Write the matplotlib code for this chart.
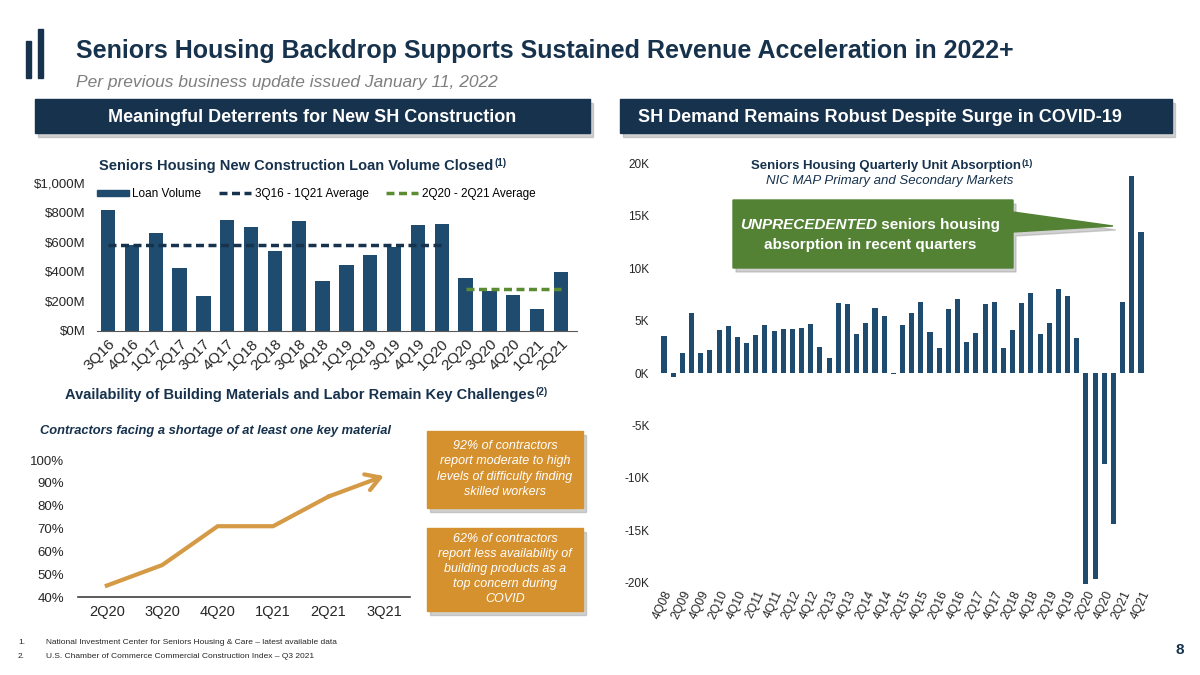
import numpy as np
import matplotlib
matplotlib.use("Agg")
import matplotlib.pyplot as plt
from matplotlib.patches import Rectangle, Polygon, Patch
from matplotlib.lines import Line2D

plt.rcParams['font.family'] = ['Liberation Sans', 'DejaVu Sans']

# ---- data ----
loan_q = ["3Q16", "4Q16", "1Q17", "2Q17", "3Q17", "4Q17", "1Q18", "2Q18", "3Q18", "4Q18",
          "1Q19", "2Q19", "3Q19", "4Q19", "1Q20", "2Q20", "3Q20", "4Q20", "1Q21", "2Q21"]
loan_vol = [820, 580, 664, 425, 239, 749, 702, 543, 742, 340,
            449, 516, 568, 715, 720, 358, 270, 244, 152, 396]
avg_long = 581    # 3Q16 - 1Q21 average
avg_short = 286   # 2Q20 - 2Q21 average

short_q = ["2Q20", "3Q20", "4Q20", "1Q21", "2Q21", "3Q21"]
short_pct = [45, 54, 71, 71, 84, 93]

abs_q = ["4Q08"] + ["%dQ%02d" % (q, y % 100) for y in range(2009, 2022) for q in (1, 2, 3, 4)]
absorption = [3.5, -0.4, 1.9, 5.7, 1.9, 2.2, 4.1, 4.5, 3.4, 2.9,
              3.6, 4.6, 4.05, 4.2, 4.2, 4.3, 4.7, 2.5, 1.4, 6.7,
              6.6, 3.7, 4.8, 6.2, 5.4, -0.1, 4.6, 5.7, 6.8, 3.9,
              2.4, 6.1, 7.1, 3.0, 3.8, 6.6, 6.8, 2.4, 4.1, 6.7,
              7.6, 3.7, 4.8, 8.0, 7.3, 3.3, -20.1, -19.6, -8.7, -14.4,
              6.8, 18.8, 13.4]

NAVY = "#17324d"
BAR = "#1f4b6e"
GREEN = "#548235"
DASH_GREEN = "#5b8c32"
ORANGE = "#d6912f"
LINE_OR = "#d59a45"
TXT = "#262626"
DASH = (0, (2.3, 1.3))

W, H = 1200, 675
fig = plt.figure(figsize=(12, 6.75), dpi=100)


def add_ax(x0, y0, x1, y1):
    return fig.add_axes([x0 / W, 1 - y1 / H, (x1 - x0) / W, (y1 - y0) / H])


def ftext(x, y, s, **kw):
    return fig.text(x / W, 1 - y / H, s, **kw)


def rect(x0, y0, x1, y1, color, shadow=True):
    if shadow:
        fig.patches.append(Rectangle(((x0 + 3) / W, 1 - (y1 + 4) / H), (x1 - x0) / W, (y1 - y0) / H,
                                     transform=fig.transFigure, color="#9a9a9a", alpha=0.45, zorder=0))
    fig.patches.append(Rectangle((x0 / W, 1 - y1 / H), (x1 - x0) / W, (y1 - y0) / H,
                                 transform=fig.transFigure, color=color, zorder=1))


renderer = fig.canvas.get_renderer()


def sup_after(t, s, size=7, **kw):
    bb = t.get_window_extent(renderer)
    return fig.text((bb.x1 + 1) / W, (bb.y1 + 1) / H, s, fontsize=size, va="top", ha="left", **kw)


# ---- header ----
fig.patches.append(Rectangle((26 / W, 1 - 78 / H), 5 / W, 37 / H, transform=fig.transFigure, color=NAVY))
fig.patches.append(Rectangle((38 / W, 1 - 78 / H), 5 / W, 49 / H, transform=fig.transFigure, color=NAVY))
ftext(76, 51, "Seniors Housing Backdrop Supports Sustained Revenue Acceleration in 2022+",
      fontsize=18, fontweight="bold", color=NAVY, va="center")
ftext(76, 83, "Per previous business update issued January 11, 2022",
      fontsize=12.5, style="italic", color="#7f7f7f", va="center")

rect(35, 99, 590, 133, NAVY)
ftext(312, 117, "Meaningful Deterrents for New SH Construction", fontsize=13, fontweight="bold",
      color="white", ha="center", va="center")
rect(620, 99, 1172, 133, NAVY)
ftext(880, 117, "SH Demand Remains Robust Despite Surge in COVID-19", fontsize=13, fontweight="bold",
      color="white", ha="center", va="center")

# ---- loan volume bars ----
ax1 = add_ax(97, 183, 577, 331)
x = np.arange(len(loan_q))
ax1.bar(x, loan_vol, width=0.6, color=BAR, zorder=2)
ax1.plot([0, 14], [avg_long] * 2, ls=DASH, lw=2.5, color=NAVY, zorder=3)
ax1.plot([15, 19], [avg_short] * 2, ls=DASH, lw=2.5, color=DASH_GREEN, zorder=3)
ax1.set_xlim(-0.46, 19.67)
ax1.set_ylim(0, 1000)
ax1.set_yticks([0, 200, 400, 600, 800, 1000])
ax1.set_yticklabels(["$0M", "$200M", "$400M", "$600M", "$800M", "$1,000M"])
ax1.set_xticks(x)
ax1.set_xticklabels(loan_q, rotation=45, ha="right", rotation_mode="anchor")
ax1.tick_params(axis="x", length=0, labelsize=11, pad=4, colors=TXT)
ax1.tick_params(axis="y", length=0, labelsize=9.5, pad=8, colors=TXT)
for s in ["top", "right", "left"]:
    ax1.spines[s].set_visible(False)
ax1.spines["bottom"].set_color("#595959")
handles = [Patch(color=BAR),
           Line2D([], [], ls=DASH, lw=2.5, color=NAVY),
           Line2D([], [], ls=DASH, lw=2.5, color=DASH_GREEN)]
ax1.legend(handles, ["Loan Volume", "3Q16 - 1Q21 Average", "2Q20 - 2Q21 Average"], ncol=3,
           loc="center left", bbox_to_anchor=(0.0, 0.925), frameon=False, fontsize=8.5,
           handlelength=2.7, handleheight=0.45, columnspacing=1.5, handletextpad=0.3,
           borderpad=0, borderaxespad=0)
t = ftext(296, 166, "Seniors Housing New Construction Loan Volume Closed", fontsize=10.5,
          fontweight="bold", color=NAVY, ha="center", va="center")
sup_after(t, "(1)", color=NAVY, fontweight="bold")

# ---- contractor shortage line ----
t = ftext(300, 395, "Availability of Building Materials and Labor Remain Key Challenges", fontsize=10.5,
          fontweight="bold", color=NAVY, ha="center", va="center")
sup_after(t, "(2)", color=NAVY, fontweight="bold")
ftext(40, 431, "Contractors facing a shortage of at least one key material", fontsize=9.3,
      fontweight="bold", style="italic", color=NAVY, va="center")

ax2 = add_ax(78, 460, 410, 597)
xs = np.arange(len(short_q))
ax2.plot(xs[:-1], short_pct[:-1], color=LINE_OR, lw=3, solid_joinstyle="miter", zorder=3)
ax2.annotate("", xy=(xs[-1], short_pct[-1]), xytext=(xs[-2], short_pct[-2]),
             arrowprops=dict(arrowstyle="->,head_length=0.5,head_width=0.3", lw=3, color=LINE_OR,
                             mutation_scale=20, shrinkA=0, shrinkB=0))
ax2.set_xlim(-0.52, 5.47)
ax2.set_ylim(40, 100)
ax2.set_yticks(range(40, 101, 10))
ax2.set_yticklabels(["%d%%" % v for v in range(40, 101, 10)])
ax2.set_xticks(xs)
ax2.set_xticklabels(short_q)
ax2.tick_params(axis="x", length=0, labelsize=10.5, pad=6, colors=TXT)
ax2.tick_params(axis="y", length=0, labelsize=9.5, pad=10, colors=TXT)
for s in ["top", "right", "left"]:
    ax2.spines[s].set_visible(False)
ax2.spines["bottom"].set_color("#404040")
ax2.spines["bottom"].set_linewidth(1.2)

rect(427, 431, 583, 508, ORANGE)
ftext(505, 469, "92% of contractors\nreport moderate to high\nlevels of difficulty finding\nskilled workers",
      fontsize=9, style="italic", color="white", ha="center", va="center", linespacing=1.35)
rect(427, 528, 583, 611, ORANGE)
ftext(505, 569, "62% of contractors\nreport less availability of\nbuilding products as a\ntop concern during\nCOVID",
      fontsize=9, style="italic", color="white", ha="center", va="center", linespacing=1.35)

# ---- absorption bars ----
ax3 = add_ax(655, 160, 1150, 586)
xa = np.arange(len(abs_q))
ax3.bar(xa, absorption, width=0.55, color=BAR, zorder=2)
ax3.set_xlim(-0.98, 52.98)
ax3.set_ylim(-20.3, 20.3)
ax3.set_yticks(range(-20, 21, 5))
ax3.set_yticklabels(["%dK" % v for v in range(-20, 21, 5)])
ax3.set_xticks(xa[::2])
ax3.set_xticklabels(abs_q[::2], rotation=65, ha="right", rotation_mode="anchor")
ax3.tick_params(axis="x", length=0, labelsize=8.8, pad=2, colors=TXT)
ax3.tick_params(axis="y", length=0, labelsize=8.5, pad=4, colors=TXT)
for s in ax3.spines.values():
    s.set_visible(False)
t = ftext(886, 166, "Seniors Housing Quarterly Unit Absorption", fontsize=9.5,
          fontweight="bold", color=NAVY, ha="center", va="center")
sup_after(t, "(1)", size=6.5, color=NAVY, fontweight="bold")
ftext(890, 181, "NIC MAP Primary and Secondary Markets", fontsize=9.5, style="italic",
      color=NAVY, ha="center", va="center")

# callout
pts = [(733, 200), (1013, 200), (1013, 212), (1113, 226), (1013, 232), (1013, 268), (733, 268)]
fig.patches.append(Polygon([((px + 3) / W, 1 - (py + 4) / H) for px, py in pts], closed=True,
                           transform=fig.transFigure, color="#9a9a9a", alpha=0.45, zorder=0))
fig.patches.append(Polygon([(px / W, 1 - py / H) for px, py in pts], closed=True,
                           transform=fig.transFigure, color=GREEN, zorder=1))
t1 = ftext(0, 225, "UNPRECEDENTED", fontsize=11, fontweight="bold", style="italic",
           color="white", va="center")
t2 = ftext(0, 225, " seniors housing", fontsize=11, fontweight="bold", color="white", va="center")
w1 = t1.get_window_extent(renderer).width
w2 = t2.get_window_extent(renderer).width
x0 = 870 - (w1 + w2) / 2
t1.set_x(x0 / W)
t2.set_x((x0 + w1) / W)
ftext(870, 245, "absorption in recent quarters", fontsize=11, fontweight="bold", color="white",
      ha="center", va="center")

# ---- footer ----
ftext(18, 643, "1.", fontsize=6, color=TXT, va="center")
ftext(46, 643, "National Investment Center for Seniors Housing & Care \u2013 latest available data",
      fontsize=6, color=TXT, va="center")
ftext(18, 656, "2.", fontsize=6, color=TXT, va="center")
ftext(46, 656, "U.S. Chamber of Commerce Commercial Construction Index \u2013 Q3 2021",
      fontsize=6, color=TXT, va="center")
ftext(1180, 650, "8", fontsize=11, fontweight="bold", color=NAVY, ha="center", va="center")

fig.savefig("out.png", dpi=100)
